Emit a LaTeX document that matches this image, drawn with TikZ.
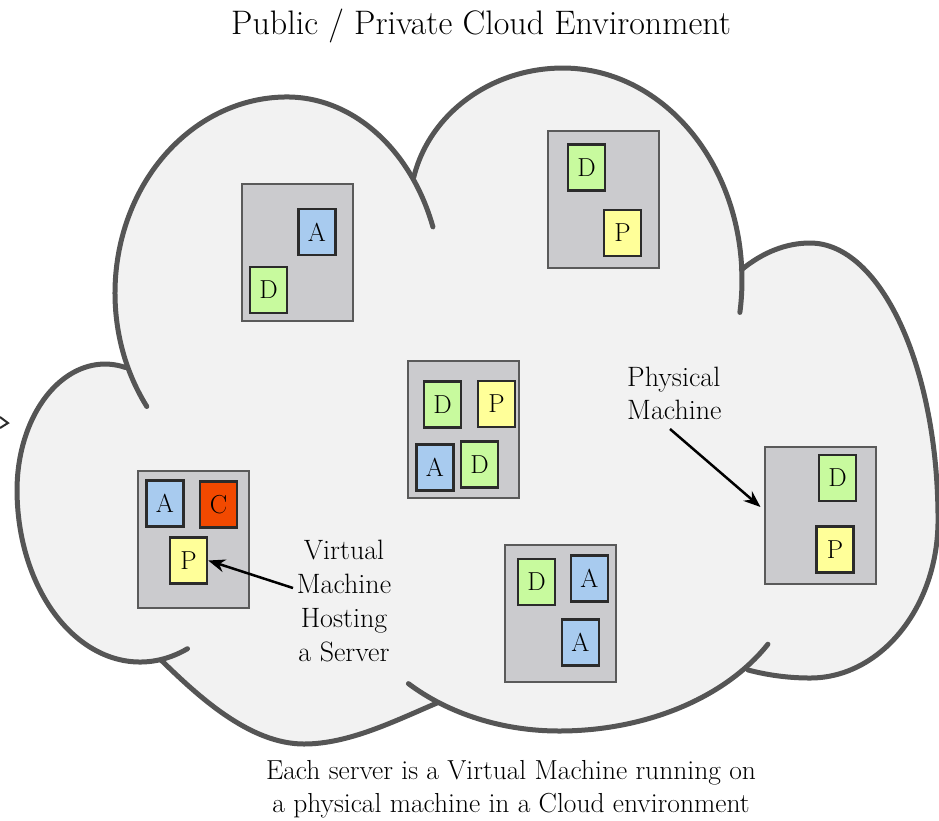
\documentclass[tikz,border=0pt]{standalone}
\usetikzlibrary{arrows.meta}

\definecolor{cloudline}{HTML}{555555}
\definecolor{cloudfill}{HTML}{F2F2F2}
\definecolor{pmfill}{HTML}{CBCBCE}
\definecolor{pmline}{HTML}{5A5A5A}
\definecolor{vmline}{HTML}{2B2B2B}
\definecolor{appblue}{HTML}{A8CBEF}
\definecolor{dbgreen}{HTML}{C8FA9E}
\definecolor{proxyyellow}{HTML}{FFFF99}
\definecolor{cacheorange}{HTML}{F24900}

\tikzset{
  lobe/.style={draw=cloudline, line width=5pt, line cap=round},
  pmbox/.style={draw=pmline, fill=pmfill, line width=2pt, inner sep=0pt,
    minimum width=111pt, minimum height=137pt},
  vmbox/.style={draw=vmline, line width=2.5pt, inner sep=0pt,
    minimum width=37pt, minimum height=46pt,
    font=\fontsize{26}{26}\selectfont},
  vmA/.style={vmbox, fill=appblue},
  vmD/.style={vmbox, fill=dbgreen},
  vmP/.style={vmbox, fill=proxyyellow},
  vmC/.style={vmbox, fill=cacheorange},
  label/.style={inner sep=0pt, font=\fontsize{28}{34}\selectfont},
  pointer/.style={draw=black, line width=2.5pt,
    -{Stealth[length=17pt,width=13pt]}},
}

\begin{document}
\begin{tikzpicture}[x=1pt, y=-1pt]
\useasboundingbox (0,0) rectangle (939,820);

% cloud body, lobe by lobe between the junctions (angles run clockwise on screen)
\fill[cloudfill]
  (127.1,365.1)
    arc[start angle=158.4, end angle=270, x radius=172, y radius=196]
    arc[start angle=270, end angle=325.1, x radius=155, y radius=196]
  -- (413.8,177)
    arc[start angle=192.8, end angle=270, x radius=153, y radius=140]
    arc[start angle=270, end angle=357.3, x radius=179, y radius=212]
  -- (741.4,269.8)
    arc[start angle=244.6, end angle=270, x radius=160, y radius=277]
    arc[start angle=270, end angle=360, x radius=128, y radius=277]
    arc[start angle=0, end angle=90, x radius=128, y radius=158]
    arc[start angle=90, end angle=108.4, x radius=197, y radius=158]
  -- (745,668.1)
    arc[start angle=39.2, end angle=90, x radius=240, y radius=171]
    arc[start angle=90, end angle=123.6, x radius=218, y radius=171]
  -- (437,703)
    .. controls (395.6,720.6) and (349,744) .. (304,744)
    .. controls (249,744) and (197,695) .. (161,660)
  -- (160.1,659.7)
    arc[start angle=80.6, end angle=180, x radius=123, y radius=172]
    arc[start angle=180, end angle=283.5, x radius=88, y radius=126]
  -- cycle;

% cloud outline, one stroke per lobe, some running on past the junction
% left lobe
\draw[lobe] (187.5,648.7)
  arc[start angle=67.3, end angle=180, x radius=123, y radius=172]
  arc[start angle=180, end angle=283.5, x radius=88, y radius=126];
% upper left lobe
\draw[lobe] (146.8,406.5)
  arc[start angle=144.6, end angle=270, x radius=172, y radius=196]
  arc[start angle=270, end angle=340.3, x radius=155, y radius=196];
% upper right lobe
\draw[lobe] (413.8,177)
  arc[start angle=192.8, end angle=270, x radius=153, y radius=140]
  arc[start angle=270, end angle=368.8, x radius=179, y radius=212];
% right lobe
\draw[lobe] (741.4,269.8)
  arc[start angle=244.6, end angle=270, x radius=160, y radius=277]
  arc[start angle=270, end angle=360, x radius=128, y radius=277]
  arc[start angle=0, end angle=90, x radius=128, y radius=158]
  arc[start angle=90, end angle=108.4, x radius=197, y radius=158];
% lower right lobe
\draw[lobe] (767.9,644.2)
  arc[start angle=29.5, end angle=90, x radius=240, y radius=171]
  arc[start angle=90, end angle=133.7, x radius=218, y radius=171];
% lower left lobe
\draw[lobe] (437,703)
  .. controls (395.6,720.6) and (349,744) .. (304,744)
  .. controls (249,744) and (197,695) .. (161,660);

% tip of an incoming arrow at the left edge
\coordinate (edgetip) at (8,423);
\draw[vmline, line width=2pt]
  ([xshift=-8pt, yshift=6pt]edgetip) -- (edgetip) -- ([xshift=-8pt, yshift=-5pt]edgetip);

% physical machines and their virtual machines
\node[pmbox] (pm1) at (297,252) {};
\node[vmA] (pm1a) at (317,232) {A};
\node[vmD] (pm1d) at (268.5,290) {D};

\node[pmbox] (pm2) at (603.5,199) {};
\node[vmD] (pm2d) at (586.5,167.5) {D};
\node[vmP] (pm2p) at (622.5,233) {P};

\node[pmbox] (pm3) at (463.5,429) {};
\node[vmD] (pm3d) at (442.5,404.5) {D};
\node[vmP] (pm3p) at (496.5,404) {P};
\node[vmA] (pm3a) at (435,467.5) {A};
\node[vmD] (pm3e) at (479.5,464.5) {D};

\node[pmbox] (pm4) at (193.5,539) {};
\node[vmA] (pm4a) at (165,503.5) {A};
\node[vmC] (pm4c) at (218.5,504.5) {C};
\node[vmP] (pm4p) at (188.5,560.5) {P};

\node[pmbox] (pm5) at (560,613) {};
\node[vmD] (pm5d) at (536.5,582) {D};
\node[vmA] (pm5a) at (589.5,578.5) {A};
\node[vmA] (pm5b) at (580.5,642.5) {A};

\node[pmbox] (pm6) at (820,515) {};
\node[vmD] (pm6d) at (837.5,478) {D};
\node[vmP] (pm6p) at (835,549.5) {P};

% callouts
\node[label, align=center] (vmlabel) at (344,601) {Virtual\\Machine\\Hosting\\a Server};
\coordinate (vmtail) at (293,588);
\draw[pointer] (vmtail) -- (pm4p.east);

\node[label, align=left, anchor=west, font=\fontsize{28}{33}\selectfont] (pmlabel) at (627,393) {Physical\\Machine};
\coordinate (pmtail) at (670,429);
\draw[pointer] (pmtail) -- ([xshift=-3pt, yshift=8pt]pm6.west);

% title and caption
\node[inner sep=0pt, anchor=base, font=\fontsize{34}{40}\selectfont] (title) at (481,34) {Public / Private Cloud Environment};
\node[inner sep=0pt, align=center, font=\fontsize{27.5}{33}\selectfont] (caption) at (511,789)
  {Each server is a Virtual Machine running on\\a physical machine in a Cloud environment};
\end{tikzpicture}
\end{document}
